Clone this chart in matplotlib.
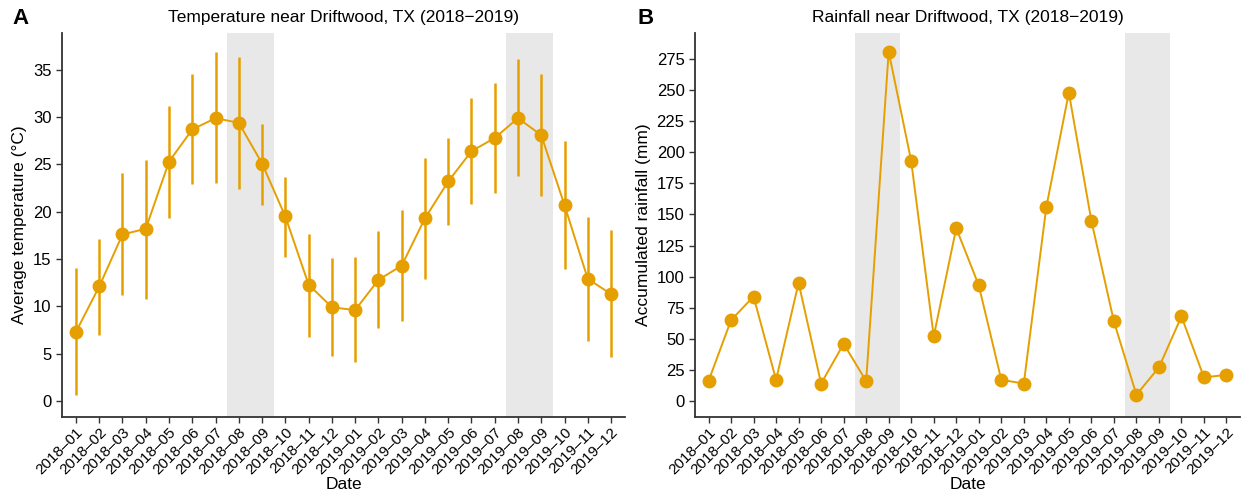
import numpy as np
import matplotlib
matplotlib.use("Agg")
import matplotlib.pyplot as plt

plt.rcParams['font.family'] = ['Liberation Sans', 'DejaVu Sans']

months = ["2018\u201301", "2018\u201302", "2018\u201303", "2018\u201304", "2018\u201305", "2018\u201306",
          "2018\u201307", "2018\u201308", "2018\u201309", "2018\u201310", "2018\u201311", "2018\u201312",
          "2019\u201301", "2019\u201302", "2019\u201303", "2019\u201304", "2019\u201305", "2019\u201306",
          "2019\u201307", "2019\u201308", "2019\u201309", "2019\u201310", "2019\u201311", "2019\u201312"]

temp_mean = [7.3, 12.1, 17.6, 18.2, 25.3, 28.7, 29.9, 29.4, 25.1, 19.5, 12.3, 9.9,
             9.6, 12.8, 14.3, 19.3, 23.2, 26.4, 27.8, 29.9, 28.1, 20.7, 12.9, 11.3]
temp_low = [0.6, 7.0, 11.2, 10.8, 19.3, 22.9, 23.0, 22.4, 20.7, 15.2, 6.8, 4.8,
            4.1, 7.7, 8.4, 12.9, 18.6, 20.8, 22.0, 23.8, 21.7, 13.9, 6.3, 4.6]
temp_high = [14.1, 17.1, 24.1, 25.5, 31.2, 34.6, 36.9, 36.4, 29.3, 23.7, 17.7, 15.1,
             15.2, 18.0, 20.2, 25.7, 27.8, 32.0, 33.6, 36.1, 34.6, 27.5, 19.4, 18.1]

rainfall = [16, 65, 84, 17, 95, 14, 46, 16, 281, 193, 52, 139,
            93, 17, 14, 156, 248, 145, 64, 5, 27, 68, 19, 21]

# shaded spans, as (first month index, last month index)
shaded = [(7, 8), (19, 20)]

orange = "#E69F00"
shade = "#E8E8E8"
axcol = "#333333"

fig = plt.figure(figsize=(12.41, 4.90), dpi=100)
W, H = 1241, 490
axA = fig.add_axes([62 / W, 1 - 417 / H, (625 - 62) / W, (417 - 33) / H])
axB = fig.add_axes([695 / W, 1 - 417 / H, (1240 - 695) / W, (417 - 33) / H])

x = np.arange(len(months))


def style(ax):
    for s in ["top", "right"]:
        ax.spines[s].set_visible(False)
    for s in ["left", "bottom"]:
        ax.spines[s].set_color(axcol)
        ax.spines[s].set_linewidth(1.3)
    ax.tick_params(axis="both", colors=axcol, length=4, width=1.0, labelcolor="black")
    ax.tick_params(axis="y", labelsize=12)
    ax.tick_params(axis="x", pad=2)
    ax.set_xticks(x)
    ax.set_xticklabels(months, rotation=45, ha="right", rotation_mode="anchor", fontsize=11)
    ax.set_xlim(-0.6, 23.6)
    for a, b in shaded:
        ax.axvspan(a - 0.5, b + 0.5, color=shade, lw=0, zorder=0)
    ax.set_xlabel("Date", fontsize=12.5, labelpad=0)


# Panel A
style(axA)
axA.vlines(x, temp_low, temp_high, color=orange, lw=1.8, zorder=2)
axA.plot(x, temp_mean, color=orange, lw=1.4, marker="o", ms=9, zorder=3)
axA.set_ylim(-1.7, 38.9)
axA.set_yticks(np.arange(0, 36, 5))
axA.set_ylabel("Average temperature (°C)", fontsize=12.5)
axA.set_title("Temperature near Driftwood, TX (2018\u22122019)", fontsize=12.5, pad=8)

# Panel B
style(axB)
axB.plot(x, rainfall, color=orange, lw=1.4, marker="o", ms=9, zorder=3)
axB.set_ylim(-12.9, 296)
axB.set_yticks(np.arange(0, 276, 25))
axB.set_ylabel("Accumulated rainfall (mm)", fontsize=12.5)
axB.set_title("Rainfall near Driftwood, TX (2018\u22122019)", fontsize=12.5, pad=8)

fig.text(12 / W, 1 - 18 / H, "A", fontsize=16, fontweight="bold", va="center")
fig.text(638 / W, 1 - 18 / H, "B", fontsize=16, fontweight="bold", va="center")

fig.savefig("out.png", dpi=100)
